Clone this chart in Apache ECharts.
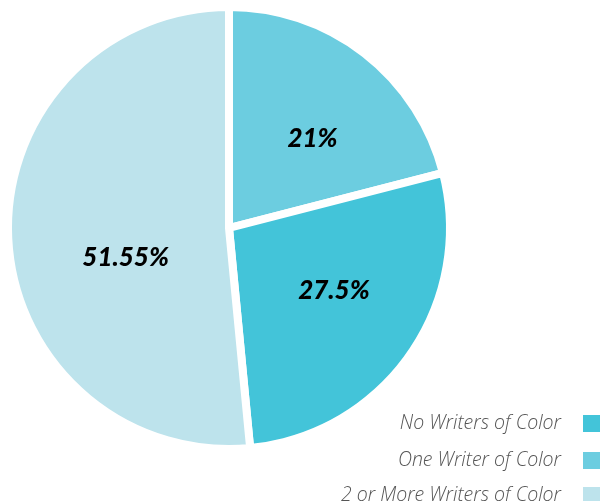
<!DOCTYPE html>
<html><head><meta charset="utf-8">
<script src="https://cdn.jsdelivr.net/npm/echarts@6/dist/echarts.min.js"></script>
<style>html,body{margin:0;padding:0;background:#fff}#c{width:606px;height:501px}</style>
</head><body><div id="c"></div>
<script>
var categories = ['One Writer of Color', 'No Writers of Color', '2 or More Writers of Color'];
var values = [21, 27.5, 51.55];
var labels = ['21%', '27.5%', '51.55%'];
var legendOrder = ['No Writers of Color', 'One Writer of Color', '2 or More Writers of Color'];
var colors = ['#6ccde0', '#43c4d9', '#bde3ec'];

// style-only: label nudges and legend row tops
var labelOffsets = [[14, 0], [12, -3], [10, 24]];
var legendTops = [413, 450, 485];

var legendStyle = {
  fontFamily: 'Open Sans',
  fontStyle: 'italic',
  fontWeight: 300,
  fontSize: 19.5,
  color: '#555',
  padding: [2, 16, 0, 0]
};

var chart = echarts.init(document.getElementById('c'));
chart.setOption({
  animation: false,
  color: colors,
  legend: legendOrder.map(function (n, i) {
    return {
      orient: 'vertical',
      right: 4,
      top: legendTops[i],
      align: 'right',
      data: [n],
      icon: 'rect',
      itemWidth: 19,
      itemHeight: 19,
      padding: 0,
      textStyle: legendStyle
    };
  }),
  series: [{
    type: 'pie',
    center: [229, 228],
    radius: [0, 221],
    startAngle: 90,
    clockwise: true,
    itemStyle: { borderColor: '#fff', borderWidth: 8 },
    label: {
      show: true,
      position: 'inside',
      formatter: function (p) { return labels[p.dataIndex]; },
      fontFamily: 'Lato',
      fontStyle: 'italic',
      fontWeight: 900,
      fontSize: 26,
      color: '#000'
    },
    labelLine: { show: false },
    emphasis: { disabled: true },
    data: categories.map(function (n, i) {
      return { name: n, value: values[i], label: { offset: labelOffsets[i] } };
    })
  }]
});
</script></body></html>
